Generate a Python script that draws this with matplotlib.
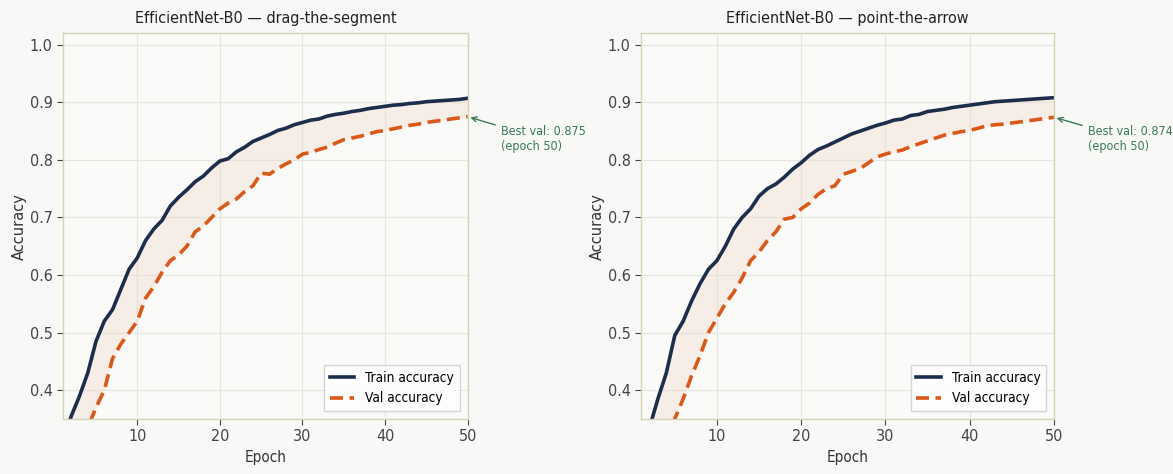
import numpy as np
import matplotlib.pyplot as plt

epochs = np.arange(1, 51)

# drag-the-segment
seg_train = [0.31, 0.355, 0.39, 0.43, 0.485, 0.52, 0.54, 0.575, 0.61, 0.63,
             0.66, 0.68, 0.695, 0.72, 0.735, 0.748, 0.762, 0.772, 0.786, 0.798,
             0.802, 0.814, 0.822, 0.832, 0.838, 0.844, 0.851, 0.855, 0.861, 0.865,
             0.869, 0.871, 0.876, 0.879, 0.881, 0.884, 0.886, 0.889, 0.891, 0.893,
             0.895, 0.896, 0.898, 0.899, 0.901, 0.902, 0.903, 0.904, 0.905, 0.907]
seg_val = [0.25, 0.28, 0.31, 0.335, 0.37, 0.40, 0.455, 0.48, 0.50, 0.52,
           0.56, 0.58, 0.605, 0.625, 0.635, 0.65, 0.675, 0.685, 0.70, 0.715,
           0.725, 0.732, 0.745, 0.755, 0.777, 0.775, 0.785, 0.793, 0.80, 0.81,
           0.813, 0.818, 0.822, 0.829, 0.835, 0.838, 0.841, 0.845, 0.849, 0.851,
           0.854, 0.857, 0.860, 0.862, 0.865, 0.867, 0.869, 0.871, 0.873, 0.875]

# point-the-arrow
arr_train = [0.29, 0.335, 0.385, 0.43, 0.495, 0.52, 0.555, 0.585, 0.61, 0.625,
             0.65, 0.68, 0.70, 0.715, 0.737, 0.75, 0.758, 0.77, 0.784, 0.795,
             0.808, 0.818, 0.824, 0.831, 0.838, 0.845, 0.850, 0.855, 0.860, 0.864,
             0.869, 0.871, 0.877, 0.879, 0.884, 0.886, 0.888, 0.891, 0.893, 0.895,
             0.897, 0.899, 0.901, 0.902, 0.903, 0.904, 0.905, 0.906, 0.907, 0.908]
arr_val = [0.24, 0.27, 0.30, 0.32, 0.35, 0.385, 0.425, 0.46, 0.50, 0.525,
           0.55, 0.57, 0.595, 0.625, 0.64, 0.66, 0.675, 0.697, 0.70, 0.715,
           0.725, 0.74, 0.75, 0.755, 0.775, 0.78, 0.785, 0.795, 0.805, 0.81,
           0.814, 0.817, 0.823, 0.828, 0.833, 0.838, 0.843, 0.846, 0.849, 0.851,
           0.855, 0.859, 0.861, 0.862, 0.864, 0.866, 0.868, 0.870, 0.872, 0.874]

panels = [
    ("EfficientNet-B0 \u2014 drag-the-segment", seg_train, seg_val, [0.0537, 0.116, 0.345, 0.814]),
    ("EfficientNet-B0 \u2014 point-the-arrow", arr_train, arr_val, [0.5465, 0.116, 0.352, 0.814]),
]

bg = '#f8f8f6'
train_col = '#1d2d4c'
val_col = '#d9581a'
note_col = '#3b7a55'
cond = dict(fontstretch='condensed')

fig = plt.figure(figsize=(11.73, 4.74), dpi=100, facecolor=bg)

for title, tr, va, rect in panels:
    ax = fig.add_axes(rect)
    ax.set_facecolor('#fafaf8')
    ax.fill_between(epochs, tr, va, color='#f0d5c8', alpha=0.35, linewidth=0)
    ax.plot(epochs, tr, color=train_col, lw=2.6, label='Train accuracy')
    ax.plot(epochs, va, color=val_col, lw=2.6, ls=(0, (3.6, 1.8)), label='Val accuracy')
    ax.set_xlim(1, 50)
    ax.set_ylim(0.35, 1.02)
    ax.set_xticks([10, 20, 30, 40, 50])
    ax.set_yticks([0.4, 0.5, 0.6, 0.7, 0.8, 0.9, 1.0])
    ax.grid(True, color='#e6e6e0', lw=0.9)
    ax.set_axisbelow(True)
    for s in ax.spines.values():
        s.set_color('#d3d6b4')
        s.set_linewidth(1.0)
    ax.tick_params(colors='#444444', labelsize=11.5, length=4)
    for lbl in ax.get_xticklabels() + ax.get_yticklabels():
        lbl.set_fontstretch('condensed')
    ax.set_title(title, fontsize=11.5, color='#222222', pad=7, **cond)
    ax.set_xlabel('Epoch', fontsize=11, color='#333333', **cond)
    ax.set_ylabel('Accuracy', fontsize=10.5, color='#333333', labelpad=2)
    leg = ax.legend(loc='lower right', frameon=True, fancybox=False, handlelength=1.8,
                    borderaxespad=0.6, prop=dict(size=9.8, stretch='condensed'))
    leg.get_frame().set_edgecolor('#cccccc')
    leg.get_frame().set_facecolor('white')
    best = max(va)
    best_ep = int(epochs[int(np.argmax(va))])
    ax.annotate(f"Best val: {best:.3f}\n(epoch {best_ep})", xy=(best_ep, best),
                xytext=(54.0, 0.836), textcoords='data', annotation_clip=False,
                fontsize=9, color=note_col, va='center', ha='left', fontstretch='condensed',
                arrowprops=dict(arrowstyle='->', color=note_col, lw=1.0))

fig.savefig('out.png', dpi=100, facecolor=bg)
